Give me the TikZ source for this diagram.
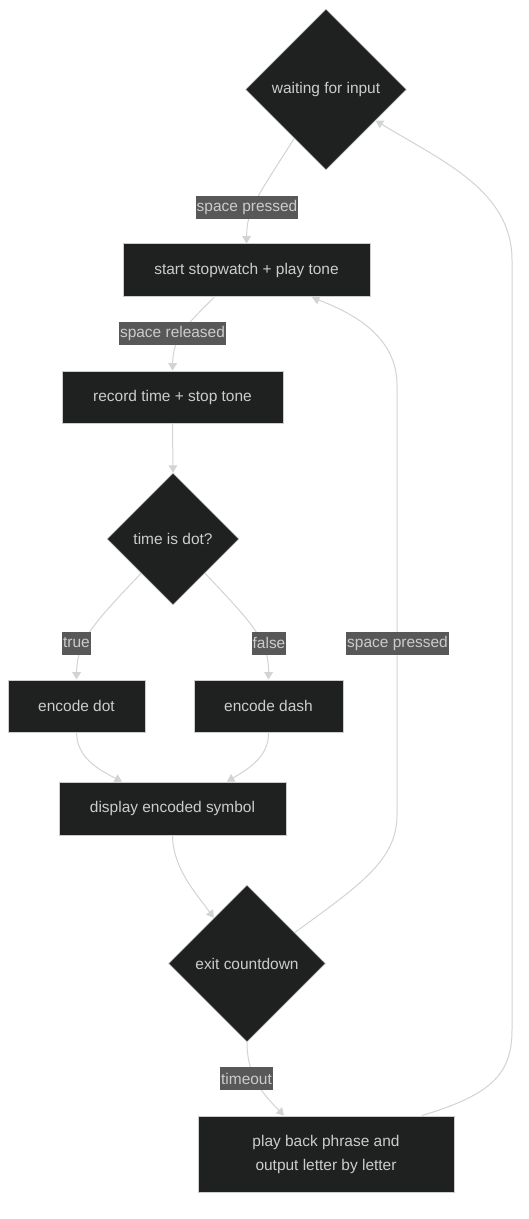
\documentclass[tikz,border=0pt]{standalone}
\usepackage{fontspec}
\setmainfont{Liberation Sans}
\usetikzlibrary{shapes.geometric,arrows.meta,calc}
\definecolor{nodefill}{HTML}{1F2020}
\definecolor{nodeline}{HTML}{CCCCCC}
\definecolor{nodetext}{HTML}{CCCCCC}
\definecolor{edgecol}{HTML}{D3D3D3}
\definecolor{labelfill}{HTML}{585858}
\tikzset{
  basefont/.style={font=\fontsize{11.6}{18}\selectfont, text=nodetext},
  procbox/.style={basefont, draw=nodeline, line width=0.75pt, fill=nodefill, rectangle, inner sep=0pt, align=center},
  decision/.style={basefont, draw=nodeline, line width=0.5pt, fill=nodefill, diamond, aspect=1, inner sep=0pt},
  edgelabel/.style={basefont, fill=labelfill, inner xsep=0.75pt, inner ysep=0pt, minimum height=17.25pt},
  flow/.style={draw=edgecol, line width=0.75pt, -{Triangle[length=5.5pt,width=6.5pt]}},
}
\begin{document}
\begin{tikzpicture}[x=0.75pt,y=-0.75pt]
\useasboundingbox[fill=white] (0,0) rectangle (528,1219);

% nodes
\node[decision, minimum width=120.75pt, minimum height=120.75pt] (w) at (326,89.5) {waiting for input};
\node[procbox, minimum width=185.25pt, minimum height=39.75pt] (s) at (246.5,270.5) {start stopwatch + play tone};
\node[procbox, minimum width=165.75pt, minimum height=39pt] (r) at (172.5,397) {record time + stop tone};
\node[decision, minimum width=99pt, minimum height=99pt] (t) at (173,539) {time is dot?};
\node[procbox, minimum width=102.75pt, minimum height=39pt] (d1) at (76.5,706) {encode dot};
\node[procbox, minimum width=111.75pt, minimum height=39pt] (d2) at (268.5,706) {encode dash};
\node[procbox, minimum width=170.25pt, minimum height=39.75pt] (ds) at (172.5,808.5) {display encoded symbol};
\node[decision, minimum width=117.75pt, minimum height=117.75pt] (e) at (247,963.5) {exit countdown};
\node[procbox, minimum width=192pt, minimum height=57pt] (p) at (326,1154) {play back phrase and\\output letter by letter};

% edges
\draw[flow] (w.237) .. controls (255,200) and (247,210) .. (s.north);
\draw[flow] ($(s.south)+(-32.5,0)$) .. controls (186,325) and (173,338) .. (r.north);
\draw[flow] (r.south) -- (t.north);
\draw[flow] (t.227) .. controls (95,622) and (77,640) .. (d1.north);
\draw[flow] (t.313) .. controls (251,622) and (269,640) .. (d2.north);
\draw[flow] (d1.south) .. controls (77,756) and (95,768) .. ($(ds.north)+(-50.5,0)$);
\draw[flow] (d2.south) .. controls (269,756) and (250,768) .. ($(ds.north)+(54.5,0)$);
\draw[flow] (ds.south) .. controls (173,868) and (195,892) .. (e.126);
\draw[flow] (e.33) .. controls (360,885) and (397,860) .. (397,815) -- (397,385) .. controls (397,335) and (350,312) .. ($(s.south)+(65.5,0)$);
\draw[flow] (e.south) .. controls (247,1078) and (265,1096) .. ($(p.north)+(-42,0)$);
\draw[flow] ($(p.north)+(96,0)$) .. controls (490,1095) and (512,1075) .. (512,1030) -- (512,260) .. controls (512,190) and (440,160) .. (w.-32);

% edge labels
\node[edgelabel] (l1) at (247,207.5) {space pressed};
\node[edgelabel] (l2) at (172.5,333.5) {space released};
\node[edgelabel] (l3) at (76.5,643) {true};
\node[edgelabel] (l4) at (269,643) {false};
\node[edgelabel] (l5) at (397.5,643) {space pressed};
\node[edgelabel] (l6) at (246.5,1078.5) {timeout};
\end{tikzpicture}
\end{document}
